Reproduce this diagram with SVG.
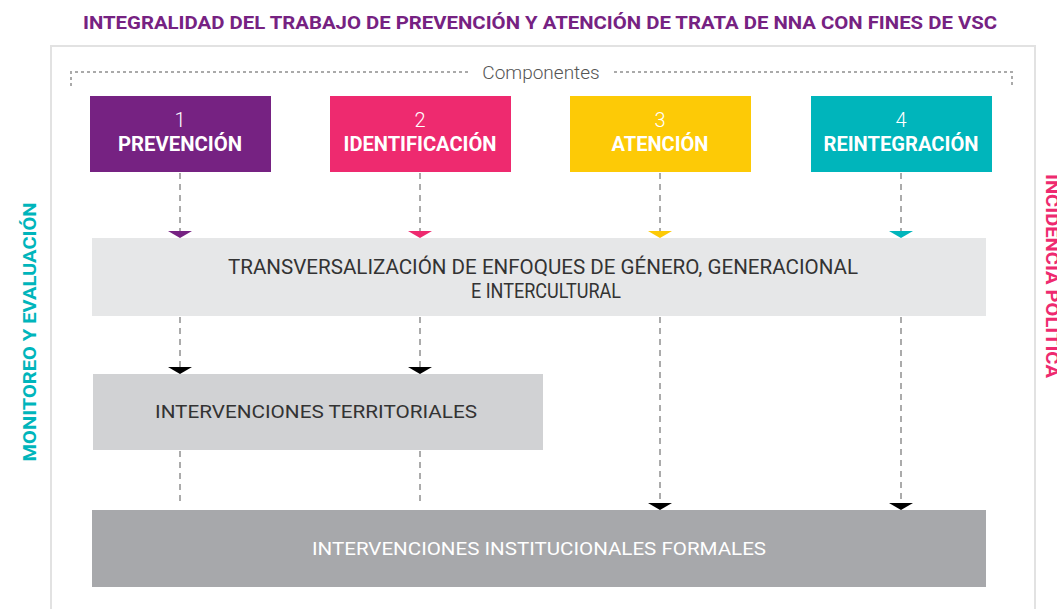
<svg xmlns="http://www.w3.org/2000/svg" width="1057" height="609" viewBox="0 0 1057 609">
<defs>
<style>
.title{font-family:Roboto,"Liberation Sans",sans-serif;font-weight:700;font-size:18px;fill:#762282}
.comp{font-family:Roboto,"Liberation Sans",sans-serif;font-weight:300;font-size:19px;fill:#555}
.num{font-family:Roboto,"Liberation Sans",sans-serif;font-weight:300;font-size:20px;fill:#fff}
.lbl{font-family:Roboto,"Liberation Sans",sans-serif;font-weight:700;font-size:20px;fill:#fff}
.dark{font-family:Roboto,"Liberation Sans",sans-serif;font-weight:400;font-size:18px;fill:#333}
.cond{font-family:Roboto,"Liberation Sans",sans-serif;font-weight:400;font-size:21px;fill:#333}
.white{font-family:Roboto,"Liberation Sans",sans-serif;font-weight:400;font-size:18px;fill:#fff}
.side{font-family:Roboto,"Liberation Sans",sans-serif;font-weight:700;font-size:18px}
.dash{stroke:#ababab;stroke-width:2;stroke-dasharray:6 5;fill:none}
.dot{stroke:#aaa;stroke-width:2;stroke-dasharray:3 3;fill:none}
</style>
</defs>
<rect width="1057" height="609" fill="#fff"/>
<text class="title" x="540" y="29" text-anchor="middle" textLength="914" lengthAdjust="spacingAndGlyphs">INTEGRALIDAD DEL TRABAJO DE PREVENCIÓN Y ATENCIÓN DE TRATA DE NNA CON FINES DE VSC</text>
<path d="M51 609 V46 H1035 V609" fill="none" stroke="#e2e2e2" stroke-width="2"/>
<path class="dot" d="M71 86 V72 H468 M614 72 H1012 V86"/>
<text class="comp" x="541" y="79" text-anchor="middle">Componentes</text>
<text class="side" fill="#00b5bb" transform="translate(36,332) rotate(-90)" text-anchor="middle" textLength="259" lengthAdjust="spacingAndGlyphs">MONITOREO Y EVALUACIÓN</text>
<text class="side" fill="#ee2a6f" transform="translate(1046,276) rotate(90)" text-anchor="middle" textLength="204" lengthAdjust="spacingAndGlyphs">INCIDENCIA POLÍTICA</text>
<g id="connectors">
<path class="dash" d="M180 173 V231 M420 173 V231 M660 173 V231 M901 173 V231"/>
<path class="dash" d="M180 317 V367 M420 317 V367 M180 451 V506 M420 451 V506 M660 317 V503 M901 317 V503"/>
<path d="M168 231 H192 L180 238 Z" fill="#762282"/>
<path d="M408 231 H432 L420 238 Z" fill="#ee2a6f"/>
<path d="M648 231 H672 L660 238 Z" fill="#fdca06"/>
<path d="M889 231 H913 L901 238 Z" fill="#00b5bb"/>
<path d="M168 367 H192 L180 374 Z" fill="#000"/>
<path d="M408 367 H432 L420 374 Z" fill="#000"/>
<path d="M648 503 H672 L660 510 Z" fill="#000"/>
<path d="M889 503 H913 L901 510 Z" fill="#000"/>
</g>
<g id="prevencion">
<rect x="90" y="96" width="181" height="76" fill="#762282"/>
<text class="num" x="180" y="127" text-anchor="middle">1</text>
<text class="lbl" x="180" y="151" text-anchor="middle" textLength="124" lengthAdjust="spacingAndGlyphs">PREVENCIÓN</text>
</g>
<g id="identificacion">
<rect x="330" y="96" width="181" height="76" fill="#ee2a6f"/>
<text class="num" x="420" y="127" text-anchor="middle">2</text>
<text class="lbl" x="420" y="151" text-anchor="middle" textLength="153" lengthAdjust="spacingAndGlyphs">IDENTIFICACIÓN</text>
</g>
<g id="atencion">
<rect x="570" y="96" width="181" height="76" fill="#fdca06"/>
<text class="num" x="660" y="127" text-anchor="middle">3</text>
<text class="lbl" x="660" y="151" text-anchor="middle" textLength="97" lengthAdjust="spacingAndGlyphs">ATENCIÓN</text>
</g>
<g id="reintegracion">
<rect x="811" y="96" width="181" height="76" fill="#00b5bb"/>
<text class="num" x="901" y="127" text-anchor="middle">4</text>
<text class="lbl" x="901" y="151" text-anchor="middle" textLength="155" lengthAdjust="spacingAndGlyphs">REINTEGRACIÓN</text>
</g>
<g id="transversal">
<rect x="92" y="238" width="894" height="78" fill="#e6e7e8"/>
<text class="cond" x="543" y="274" text-anchor="middle" textLength="630" lengthAdjust="spacingAndGlyphs">TRANSVERSALIZACIÓN DE ENFOQUES DE GÉNERO, GENERACIONAL</text>
<text class="cond" x="546" y="298" text-anchor="middle" textLength="150" lengthAdjust="spacingAndGlyphs">E INTERCULTURAL</text>
</g>
<g id="territoriales">
<rect x="93" y="374" width="450" height="76" fill="#d1d2d4"/>
<text class="dark" x="316" y="418" text-anchor="middle" textLength="322" lengthAdjust="spacingAndGlyphs">INTERVENCIONES TERRITORIALES</text>
</g>
<g id="formales">
<rect x="92" y="510" width="894" height="77" fill="#a7a8ab"/>
<text class="white" x="539" y="555" text-anchor="middle" textLength="454" lengthAdjust="spacingAndGlyphs">INTERVENCIONES INSTITUCIONALES FORMALES</text>
</g>
</svg>
